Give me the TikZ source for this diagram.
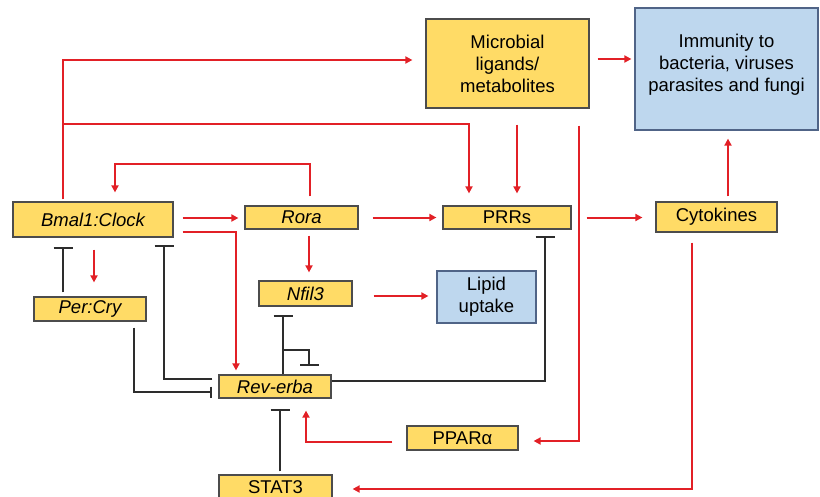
\documentclass[tikz,border=0pt]{standalone}
\usepackage{fontspec}
\setmainfont{Liberation Sans}
\usetikzlibrary{arrows.meta,calc}
\definecolor{ybox}{RGB}{255,219,102}
\definecolor{bbox}{RGB}{190,215,238}
\definecolor{ared}{RGB}{226,32,38}
\definecolor{dline}{RGB}{45,45,45}
\definecolor{bborder}{RGB}{80,100,135}
\begin{document}
\begin{tikzpicture}[x=1pt,y=-1pt,
  yel/.style={draw=dline!85, line width=1.2pt, fill=ybox, inner sep=0pt, align=center,
    font=\fontsize{18.5}{22}\selectfont},
  blu/.style={draw=bborder, line width=1.2pt, fill=bbox, inner sep=0pt, align=center,
    font=\fontsize{18.5}{22}\selectfont},
  act/.style={draw=ared, line width=2pt, -{Triangle[length=7pt,width=7pt]}},
  inh/.style={draw=dline, line width=2pt, -{Bar[width=19pt,line width=2pt]}},
  inhs/.style={draw=dline, line width=2pt, -{Bar[width=11pt,line width=2pt]}}]
\useasboundingbox (0,0) rectangle (820,496);
% nodes
\node[yel, minimum width=160pt, minimum height=35pt] (bmal) at (93,219.5) {\itshape Bmal1:Clock};
\node[yel, minimum width=113pt, minimum height=23pt] (rora) at (301.5,217.5) {\itshape Rora};
\node[yel, minimum width=93pt, minimum height=25pt] (nfil) at (305.5,293.5) {\itshape Nfil3};
\node[yel, minimum width=112pt, minimum height=24pt] (per) at (90,309) {\itshape Per:Cry};
\node[yel, minimum width=112pt, minimum height=23pt] (rev) at (275,386.5) {\itshape Rev-erba};
\node[yel, minimum width=163pt, minimum height=89pt] (micro) at (507.5,63.5) {Microbial\\ligands/\\metabolites};
\node[blu, minimum width=183pt, minimum height=122pt] (immun) at (726.5,69) {};
\node[font=\fontsize{18.5}{22}\selectfont, align=center] (immuntext) at (726.5,65) {Immunity to\\bacteria, viruses\\parasites and fungi};
\node[yel, minimum width=128pt, minimum height=23pt] (prrs) at (507,217.5) {PRRs};
\node[yel, minimum width=121pt, minimum height=30pt] (cyto) at (716.5,217) {Cytokines};
\node[blu, minimum width=99pt, minimum height=52pt] (lipid) at (486.5,297) {Lipid\\uptake};
\node[yel, minimum width=111pt, minimum height=24pt] (ppar) at (462.5,438) {PPARα};
\node[yel, minimum width=113pt, minimum height=24pt] (stat) at (275.5,487) {STAT3};
% red activations
\draw[act, shorten >=13pt] ($(bmal.north)+(-30,-2)$) |- ($(micro.west)+(0,-3.5)$);
\draw[act, shorten >=12pt] ($(bmal.north)+(-30,-77.5)$) -| ($(prrs.north)+(-38,0)$);
\draw[act, shorten <=16pt, shorten >=12pt] ($(micro.south)+(9.5,0)$) -- ($(prrs.north)+(10,0)$);
\draw[act, shorten <=8pt, shorten >=3pt] ($(micro.east)+(0,-4.5)$) -- ($(immun.west)+(0,-10)$);
\draw[act, shorten >=15pt] ($(micro.south)+(71.5,17)$) |- ($(ppar.east)+(0,3)$);
\draw[act, shorten <=15pt, shorten >=13pt] (prrs.east) -- (cyto.west |- prrs.east);
\draw[act, shorten <=5pt, shorten >=8pt] ($(cyto.north)+(11.5,0)$) -- ($(immun.south)+(1.5,0)$);
\draw[act, shorten <=10pt, shorten >=20pt] ($(cyto.south)+(-24.5,0)$) |- ($(stat.east)+(0,2)$);
\draw[act, shorten >=9pt] ($(rora.north)+(8.5,-9)$) |- ($(bmal.north)+(22,-37.5)$) -- ($(bmal.north)+(22,0)$);
\draw[act, shorten >=6pt] ($(bmal.east)+(9,-1.5)$) -- ($(rora.west)+(0,0.5)$);
\draw[act, shorten >=4pt] ($(bmal.east)+(9,12.5)$) -| ($(rev.north)+(-39,0)$);
\draw[act, shorten <=6pt, shorten >=8pt] ($(rora.south)+(7.5,0)$) -- ($(nfil.north)+(3.5,0)$);
\draw[act, shorten <=14pt, shorten >=6pt] (rora.east) -- (prrs.west);
\draw[act, shorten <=21pt, shorten >=8pt] ($(nfil.east)+(0,2.5)$) -- ($(lipid.west)+(0,-1)$);
\draw[act] ($(bmal.south)+(1,12)$) -- ($(per.north)+(4,-14)$);
\draw[act] ($(ppar.west)+(-14,4)$) -| ($(rev.south)+(31,12)$);
% inhibitions
\draw[inh] ($(per.north)+(-27,-4)$) -- ($(bmal.south)+(-30,9)$);
\draw[inhs] ($(per.south)+(44,6)$) |- ($(rev.west)+(-6,5.5)$);
\draw[inh] ($(rev.west)+(-6,-7.5)$) -| ($(bmal.south)+(71,7)$);
\draw[inh] ($(rev.north)+(8,0)$) -- ($(nfil.south)+(-22.5,8)$);
\draw[inh] ($(rev.north)+(8,-24)$) -| ($(rev.north)+(34,-8)$);
\draw[inh] ($(rev.east)+(0,-5.5)$) -| ($(prrs.south)+(38,6)$);
\draw[inh] ($(stat.north)+(4.5,-3)$) -- ($(rev.south)+(5,10)$);
\end{tikzpicture}
\end{document}
